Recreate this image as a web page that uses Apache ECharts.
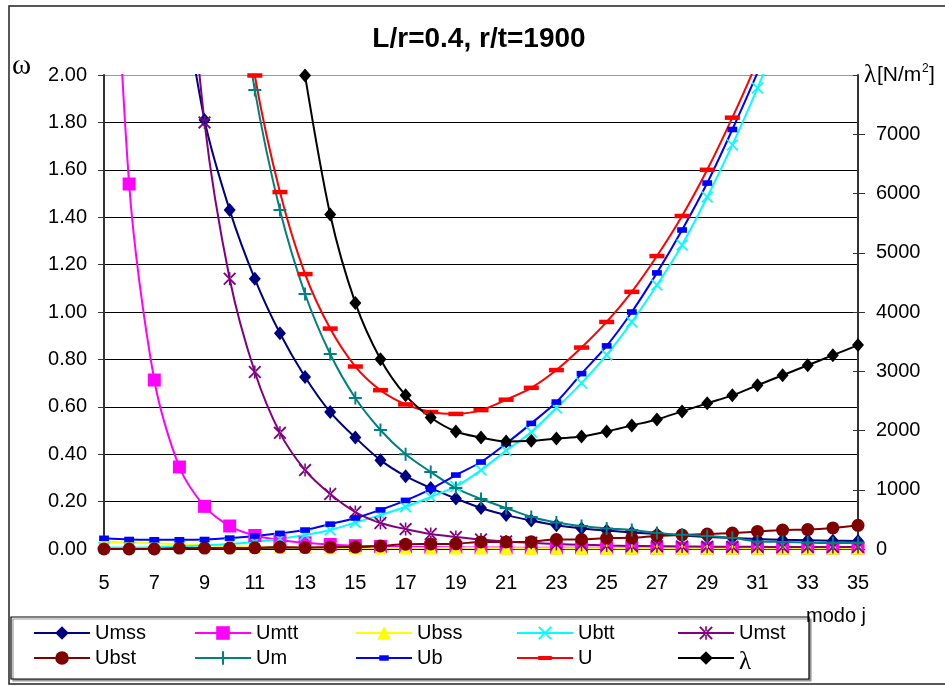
<!DOCTYPE html>
<html>
<head>
<meta charset="utf-8">
<title>L/r=0.4, r/t=1900</title>
<script src="https://cdn.jsdelivr.net/npm/echarts@6/dist/echarts.min.js"></script>
<style>
  html, body { margin: 0; padding: 0; background: #fff; }
  #chart { width: 945px; height: 686px; }
</style>
</head>
<body>
<div id="chart"></div>
<script>
// modo j
const modes = [5, 6, 7, 8, 9, 10, 11, 12, 13, 14, 15, 16, 17, 18, 19, 20, 21, 22, 23, 24, 25, 26, 27, 28, 29, 30, 31, 32, 33, 34, 35];

// omega (left axis); values above 2.00 fall outside the plot and are clipped
const umss = [6.0, 4.4, 3.2, 2.45, 1.81, 1.43, 1.14, 0.91, 0.726, 0.578, 0.47, 0.375, 0.307, 0.257, 0.213, 0.173, 0.143, 0.12, 0.1, 0.087, 0.078, 0.07, 0.063, 0.057, 0.051, 0.046, 0.042, 0.039, 0.037, 0.035, 0.034];
const umtt = [3.6, 1.54, 0.713, 0.346, 0.18, 0.097, 0.057, 0.038, 0.026, 0.019, 0.014, 0.011, 0.009, 0.008, 0.007, 0.006, 0.006, 0.005, 0.005, 0.005, 0.005, 0.005, 0.004, 0.004, 0.004, 0.004, 0.004, 0.004, 0.004, 0.004, 0.004];
const ubss = [0.03, 0.028, 0.025, 0.02, 0.016, 0.012, 0.009, 0.007, 0.006, 0.005, 0.004, 0.004, 0.004, 0.004, 0.004, 0.004, 0.003, 0.003, 0.003, 0.003, 0.003, 0.003, 0.003, 0.003, 0.003, 0.003, 0.003, 0.003, 0.003, 0.003, 0.003];
const ubtt = [0.006, 0.006, 0.008, 0.011, 0.015, 0.021, 0.03, 0.043, 0.059, 0.08, 0.112, 0.143, 0.178, 0.22, 0.264, 0.333, 0.415, 0.494, 0.595, 0.7, 0.819, 0.958, 1.114, 1.283, 1.485, 1.705, 1.945, 2.2, 2.47, 2.76, 3.07];
const umst = [9.0, 6.5, 4.6, 3.0, 1.8, 1.14, 0.747, 0.49, 0.333, 0.232, 0.156, 0.11, 0.084, 0.063, 0.051, 0.04, 0.032, 0.026, 0.021, 0.018, 0.015, 0.013, 0.012, 0.011, 0.01, 0.009, 0.009, 0.008, 0.008, 0.008, 0.008];
const ubst = [0.0, 0.0, 0.0, 0.004, 0.004, 0.004, 0.005, 0.008, 0.006, 0.008, 0.008, 0.013, 0.02, 0.021, 0.022, 0.03, 0.03, 0.031, 0.04, 0.04, 0.046, 0.047, 0.055, 0.059, 0.063, 0.067, 0.074, 0.08, 0.082, 0.089, 0.1];
const um = [18.6, 12.4, 8.5, 5.8, 3.79, 2.667, 1.937, 1.43, 1.076, 0.823, 0.637, 0.502, 0.4, 0.325, 0.257, 0.211, 0.173, 0.135, 0.112, 0.097, 0.087, 0.08, 0.068, 0.06, 0.055, 0.047, 0.032, 0.03, 0.027, 0.025, 0.025];
const ub = [0.045, 0.04, 0.039, 0.039, 0.04, 0.046, 0.055, 0.066, 0.08, 0.105, 0.131, 0.165, 0.205, 0.253, 0.312, 0.367, 0.445, 0.53, 0.62, 0.74, 0.857, 1.0, 1.165, 1.346, 1.544, 1.77, 2.01, 2.27, 2.55, 2.85, 3.17];
const u = [18.65, 12.44, 8.54, 5.84, 3.83, 2.71, 1.998, 1.506, 1.16, 0.93, 0.77, 0.67, 0.61, 0.578, 0.57, 0.586, 0.63, 0.68, 0.755, 0.85, 0.958, 1.085, 1.236, 1.405, 1.6, 1.82, 2.06, 2.33, 2.62, 2.93, 3.26];

// lambda [N/m2] (right axis)
const lambda = [null, null, null, null, null, null, null, null, 7990, 5645, 4153, 3204, 2593, 2220, 1983, 1881, 1814, 1825, 1865, 1898, 1983, 2085, 2187, 2322, 2458, 2593, 2763, 2932, 3102, 3271, 3441];

const sans = 'Liberation Sans, Arial, sans-serif';
const serif = 'Liberation Serif, Times New Roman, serif';

// marker shapes (Excel style)
const X_PATH = 'path://M0,2 L2,0 L10,8 L18,0 L20,2 L12,10 L20,18 L18,20 L10,12 L2,20 L0,18 L8,10 Z';
const PLUS_PATH = 'path://M8.5,0 H11.5 V8.5 H20 V11.5 H11.5 V20 H8.5 V11.5 H0 V8.5 H8.5 Z';
const STAR_PATH = 'path://M0,2 L2,0 L10,8 L18,0 L20,2 L12,10 L20,18 L18,20 L10,12 L2,20 L0,18 L8,10 Z M8.8,0 L8.8,20 L11.2,20 L11.2,0 Z';
// square boxes with a flat bar inside, so the legend keeps the flat shape too
const DASH_PATH = 'path://M0,0 M20,20 M0,7 H20 V13 H0 Z';
const SMALL_RECT_PATH = 'path://M0,0 M20,20 M3,6 H17 V14 H3 Z';

const pairs = arr => modes.map((m, i) => [m, arr[i]]);

const makeSeries = (name, data, color, symbol, size, yIndex) => ({
    name,
    type: 'line',
    yAxisIndex: yIndex || 0,
    data: pairs(data),
    smooth: 0.3,
    clip: true,
    symbol,
    symbolSize: size,
    showAllSymbol: true,
    connectNulls: false,
    lineStyle: { color, width: 2 },
    itemStyle: { color, borderWidth: 0 },
    emphasis: { disabled: true }
});

const chart = echarts.init(document.getElementById('chart'));

const gridColors = ['#000', '#000', '#000', '#000', '#000', '#000', '#000', '#000', '#000', '#000', '#999'];

const option = {
    backgroundColor: '#fff',
    animation: false,
    title: {
        text: 'L/r=0.4, r/t=1900',
        left: 474,
        top: 20,
        textAlign: 'center',
        textStyle: { fontFamily: sans, fontSize: 28, fontWeight: 'bold', color: '#000' }
    },
    grid: { left: 104, right: 87, top: 75, bottom: 137, containLabel: false },
    legend: {
        left: 28,
        top: 618,
        width: 805,
        itemWidth: 56,
        itemHeight: 17,
        itemGap: 5,
        selectedMode: false,
        textStyle: {
            fontFamily: sans, fontSize: 20, color: '#000', width: 94, lineHeight: 20,
            rich: { s: { fontFamily: serif, fontSize: 25, color: '#000', padding: [8, 0, 0, 0] } }
        },
        formatter: name => name === 'λ' ? '{s|λ}' : name,
        data: ['Umss', 'Umtt', 'Ubss', 'Ubtt', 'Umst', 'Ubst', 'Um', 'Ub', 'U', 'λ']
    },
    xAxis: {
        type: 'value',
        min: 5,
        max: 35,
        interval: 2,
        axisLine: { show: true, onZero: false, lineStyle: { color: '#000', width: 1.5 } },
        axisTick: { show: true, length: 5, lineStyle: { color: '#777' } },
        axisLabel: { fontFamily: sans, fontSize: 20, color: '#000', margin: 24 },
        splitLine: { show: false }
    },
    yAxis: [
        {
            type: 'value',
            position: 'left',
            min: 0,
            max: 2,
            interval: 0.2,
            axisLine: { show: true, lineStyle: { color: '#333', width: 2 } },
            axisTick: { show: true, length: 6, lineStyle: { color: '#333' } },
            axisLabel: { fontFamily: sans, fontSize: 20, color: '#000', margin: 17, formatter: v => v.toFixed(2) },
            splitLine: { show: true, lineStyle: { color: gridColors, width: 1 } }
        },
        {
            type: 'value',
            position: 'right',
            min: 0,
            max: 8000,
            interval: 1000,
            axisLine: { show: true, lineStyle: { color: '#333', width: 2 } },
            axisTick: { show: true, length: 7, lineStyle: { color: '#333' } },
            axisLabel: { fontFamily: sans, fontSize: 20, color: '#000', margin: 18, showMaxLabel: false,
                formatter: v => v >= 8000 ? '' : String(v) },
            splitLine: { show: false }
        },
        {
            type: 'value',
            position: 'right',
            min: 0,
            max: 8000,
            interval: 1000,
            axisLine: { show: false },
            axisTick: { show: true, inside: true, length: 5, lineStyle: { color: '#333' } },
            axisLabel: { show: false },
            splitLine: { show: false }
        }
    ],
    graphic: [
        { type: 'rect', silent: true, z: -1, shape: { x: 9, y: 6, width: 960, height: 678 },
          style: { fill: 'none', stroke: '#222', lineWidth: 1.5 } },
        { type: 'rect', silent: true, shape: { x: 11, y: 617, width: 798, height: 62 },
          style: { fill: '#fff', stroke: '#000', lineWidth: 1.2, shadowColor: '#999', shadowOffsetX: 2, shadowOffsetY: 2, shadowBlur: 0 }, z: -1 },
        { type: 'text', silent: true, left: 12, top: 52,
          style: { text: 'ω', fontFamily: serif, fontSize: 29, fill: '#000' } },
        { type: 'text', silent: true, left: 864, top: 63,
          style: { text: 'λ', fontFamily: serif, fontSize: 25, fill: '#000' } },
        { type: 'text', silent: true, left: 877, top: 65,
          style: { text: '[N/m', fontFamily: sans, fontSize: 21, fill: '#000' } },
        { type: 'text', silent: true, left: 922, top: 63,
          style: { text: '2', fontFamily: sans, fontSize: 12, fill: '#000' } },
        { type: 'text', silent: true, left: 929, top: 65,
          style: { text: ']', fontFamily: sans, fontSize: 21, fill: '#000' } },
        { type: 'text', silent: true, left: 806, top: 606,
          style: { text: 'modo j', fontFamily: sans, fontSize: 20, fill: '#000' } }
    ],
    series: [
        makeSeries('Umss', umss, '#000080', 'diamond', [12, 14]),
        makeSeries('Umtt', umtt, '#FF00FF', 'rect', 13),
        makeSeries('Ubss', ubss, '#FFFF00', 'triangle', 13),
        makeSeries('Ubtt', ubtt, '#00FFFF', X_PATH, 12),
        makeSeries('Umst', umst, '#800080', STAR_PATH, 13),
        makeSeries('Ubst', ubst, '#800000', 'circle', 13),
        makeSeries('Um', um, '#008080', PLUS_PATH, 13),
        makeSeries('Ub', ub, '#0000FF', SMALL_RECT_PATH, 14),
        makeSeries('U', u, '#FF0000', DASH_PATH, 15),
        makeSeries('λ', lambda, '#000000', 'diamond', [12, 14], 1)
    ]
};

chart.setOption(option);
</script>
</body>
</html>
